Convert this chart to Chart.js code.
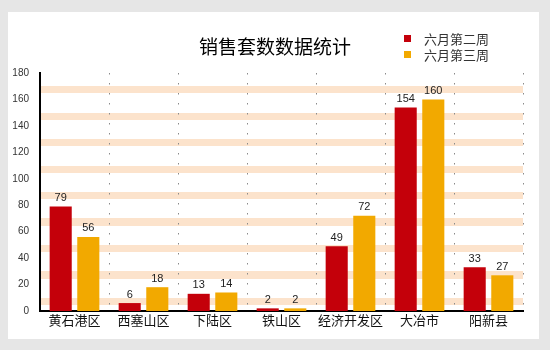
<!DOCTYPE html>
<html>
<head>
<meta charset="utf-8">
<script src="https://cdn.jsdelivr.net/npm/chart.js@4"></script>
<style>
  html, body { margin: 0; padding: 0; background: #e6e6e6; }
  #panel { position: absolute; left: 8px; top: 12px; width: 531px; height: 327px; background: #fff; }
  #wrap { position: absolute; left: 0; top: 0; width: 550px; height: 350px; }
</style>
</head>
<body>
<div id="panel"></div>
<div id="wrap"><canvas id="myChart" width="550" height="350"></canvas></div>
<script>
const titleText = "销售套数数据统计";
const districts = ["黄石港区", "西塞山区", "下陆区", "铁山区", "经济开发区", "大冶市", "阳新县"];
const week2 = [79, 6, 13, 2, 49, 154, 33];
const week3 = [56, 18, 14, 2, 72, 160, 27];
const seriesNames = ["六月第二周", "六月第三周"];
const seriesColors = ["#c4000a", "#f2a900"];
const yTicks = [0, 20, 40, 60, 80, 100, 120, 140, 160, 180];

const cjk = '"Noto Sans CJK SC", "Noto Sans", sans-serif';

// peach stripes behind the bars
const stripes = {
  id: 'stripes',
  beforeDraw(chart) {
    const {ctx, chartArea, scales: {y}} = chart;
    ctx.save();
    ctx.fillStyle = '#fce3cc';
    yTicks.slice(0, -1).forEach(v => {
      const top = Math.round(y.getPixelForValue(v + 10));
      const bot = Math.round(y.getPixelForValue(v + 4.5));
      ctx.fillRect(chartArea.left, top, chartArea.right - chartArea.left, bot - top);
    });
    ctx.restore();
  }
};

// value labels, title and the stacked legend
const extras = {
  id: 'extras',
  afterDatasetsDraw(chart) {
    const ctx = chart.ctx;
    ctx.save();
    ctx.font = '11px Arial, "Liberation Sans", sans-serif';
    ctx.fillStyle = '#222';
    ctx.textAlign = 'center';
    ctx.textBaseline = 'bottom';
    chart.data.datasets.forEach((ds, i) => {
      chart.getDatasetMeta(i).data.forEach((bar, j) => {
        ctx.fillText(ds.data[j], bar.x, bar.y - 3);
      });
    });

    ctx.fillStyle = '#000';
    ctx.font = '19px ' + cjk;
    ctx.textBaseline = 'middle';
    ctx.fillText(titleText, 275, 47);

    ctx.font = '13px ' + cjk;
    ctx.textAlign = 'left';
    chart.data.datasets.forEach((ds, i) => {
      const y = 39 + i * 16;
      ctx.fillStyle = ds.backgroundColor;
      ctx.fillRect(404, y - 4, 7, 7);
      ctx.fillStyle = '#333';
      ctx.fillText(ds.label, 424, y);
    });
    ctx.restore();
  }
};

const myChart = new Chart(document.getElementById('myChart').getContext('2d'), {
  type: 'bar',
  data: {
    labels: districts,
    datasets: [
      { label: seriesNames[0], data: week2, backgroundColor: seriesColors[0] },
      { label: seriesNames[1], data: week3, backgroundColor: seriesColors[1] }
    ]
  },
  options: {
    responsive: false,
    animation: false,
    categoryPercentage: 0.8,
    barPercentage: 0.8,
    layout: { padding: { left: 0, right: 27, top: 73, bottom: 0 } },
    plugins: {
      legend: { display: false },
      title: { display: false },
      tooltip: { enabled: false }
    },
    scales: {
      x: {
        grid: { color: '#8a8a8a', lineWidth: 1, drawTicks: false, offset: true },
        border: { color: '#000', width: 2, dash: [1.5, 8.5] },
        ticks: { color: '#111', font: { family: cjk, size: 13 }, padding: 1, maxRotation: 0, minRotation: 0, autoSkip: false },
        afterFit(scale) { scale.height = 39; }
      },
      y: {
        min: 0,
        max: 180,
        grid: { display: false },
        border: { color: '#000', width: 2 },
        ticks: { stepSize: 20, color: '#333', font: { family: 'Arial, "Liberation Sans", sans-serif', size: 10 }, padding: 3 },
        afterFit(scale) { scale.width = 40; }
      }
    }
  },
  plugins: [stripes, extras]
});
</script>
</body>
</html>
